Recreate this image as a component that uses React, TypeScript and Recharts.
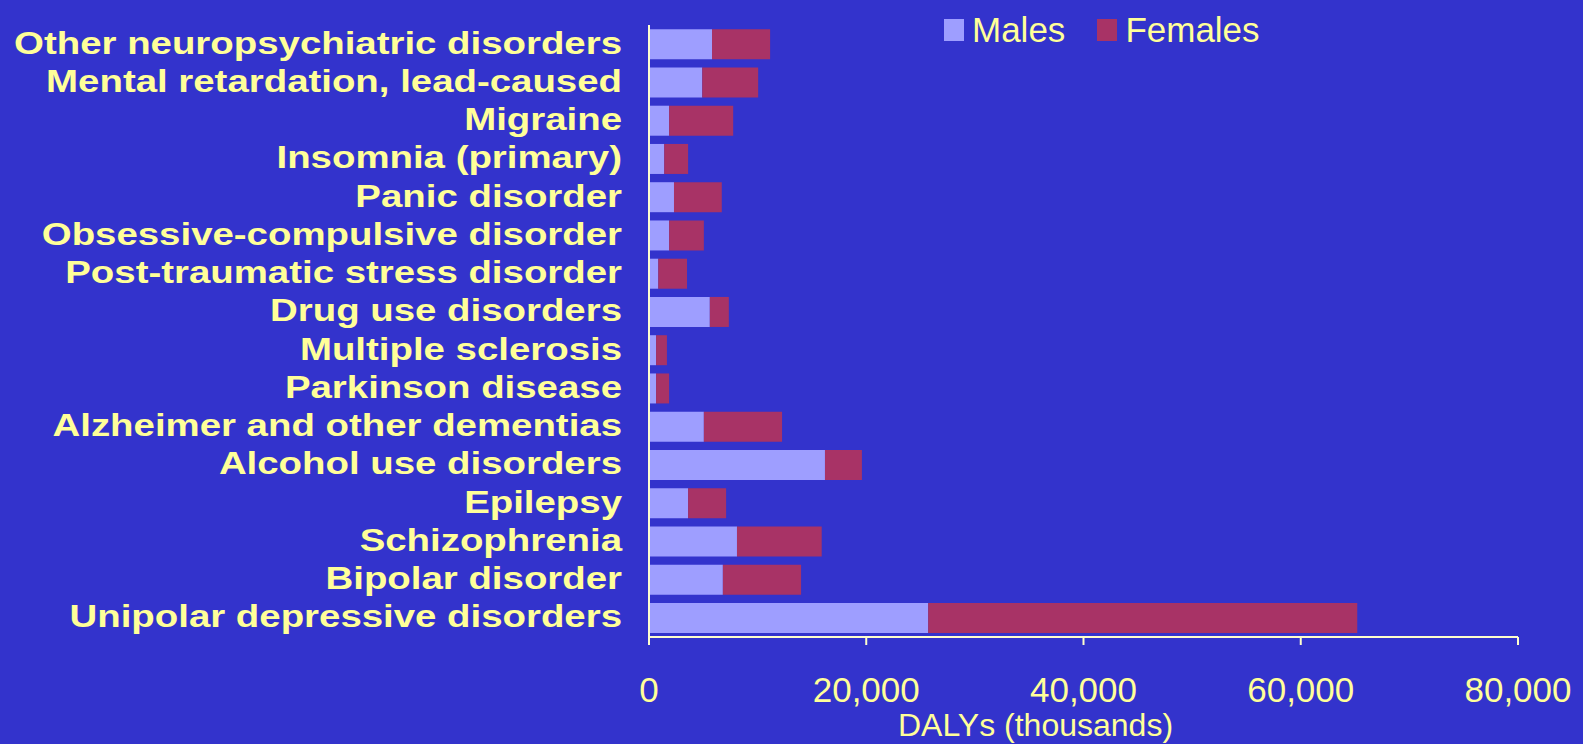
import { Bar, BarChart, XAxis, YAxis } from 'recharts'

const categories = [
  'Other neuropsychiatric disorders',
  'Mental retardation, lead-caused',
  'Migraine',
  'Insomnia (primary)',
  'Panic disorder',
  'Obsessive-compulsive disorder',
  'Post-traumatic stress disorder',
  'Drug use disorders',
  'Multiple sclerosis',
  'Parkinson disease',
  'Alzheimer and other dementias',
  'Alcohol use disorders',
  'Epilepsy',
  'Schizophrenia',
  'Bipolar disorder',
  'Unipolar depressive disorders',
]

// DALYs in thousands
const males = [5800, 4900, 1850, 1400, 2300, 1850, 850, 5600, 650, 650, 5050, 16200, 3600, 8100, 6800, 25700]
const females = [5350, 5150, 5900, 2200, 4400, 3200, 2650, 1750, 1000, 1200, 7200, 3400, 3500, 7800, 7200, 39500]

const xTicks = [0, 20000, 40000, 60000, 80000]

const legendItems = ['Males', 'Females']

const data = categories.map((name, i) => ({ name, males: males[i], females: females[i] }))

const BG = '#3333cc'
const YELLOW = '#ffff99'
const AXIS = '#ffffcc'
const MALE = '#9e9eff'
const FEMALE = '#a83366'
const FONT = '"Liberation Sans", Arial, sans-serif'

function CategoryTick({ x, y, payload }: any) {
  return (
    <g transform={`translate(${x},${y})`}>
      <text
        transform='scale(1.2,1)'
        textAnchor='end'
        dy='0.3em'
        fill={YELLOW}
        fontSize={32}
        fontWeight='bold'
        fontFamily={FONT}
      >
        {payload.value}
      </text>
    </g>
  )
}

function ValueTick({ x, y, payload }: any) {
  return (
    <text x={x} y={y} dy={53} textAnchor='middle' fill={YELLOW} fontSize={35} fontFamily={FONT}>
      {Number(payload.value).toLocaleString('en-US')}
    </text>
  )
}

function LegendBox() {
  const colors = [MALE, FEMALE]
  return (
    <div style={{ position: 'absolute', left: 944, top: 12, display: 'flex', alignItems: 'center', fontFamily: FONT }}>
      {legendItems.map((label, i) => (
        <div key={label} style={{ display: 'flex', alignItems: 'center', marginRight: 32 }}>
          <span style={{ width: 20, height: 22, background: colors[i], display: 'inline-block', marginRight: 8 }} />
          <span style={{ color: YELLOW, fontSize: 35, lineHeight: 1 }}>{label}</span>
        </div>
      ))}
    </div>
  )
}

export default function App() {
  return (
    <div style={{ position: 'absolute', left: 0, top: 0, width: 1583, height: 744, background: BG, overflow: 'hidden' }}>
      <BarChart
        width={1583}
        height={744}
        data={data}
        layout='vertical'
        margin={{ top: 25, right: 65, bottom: 0, left: 0 }}
        barCategoryGap='11%'
      >
        <XAxis
          type='number'
          domain={[0, 80000]}
          ticks={xTicks}
          height={107}
          stroke={AXIS}
          strokeWidth={2}
          tickSize={8}
          tickMargin={4}
          tick={<ValueTick />}
          label={{
            value: 'DALYs (thousands)',
            position: 'insideBottom',
            offset: 8,
            dx: -48,
            fill: YELLOW,
            fontSize: 32,
            fontFamily: FONT,
          }}
        />
        <YAxis
          type='category'
          dataKey='name'
          width={649}
          stroke={AXIS}
          strokeWidth={2}
          tickLine={false}
          tickSize={0}
          tickMargin={27}
          interval={0}
          tick={<CategoryTick />}
        />
        <Bar dataKey='males' name='Males' stackId='a' fill={MALE} isAnimationActive={false} />
        <Bar dataKey='females' name='Females' stackId='a' fill={FEMALE} isAnimationActive={false} />
      </BarChart>
      <LegendBox />
    </div>
  )
}
